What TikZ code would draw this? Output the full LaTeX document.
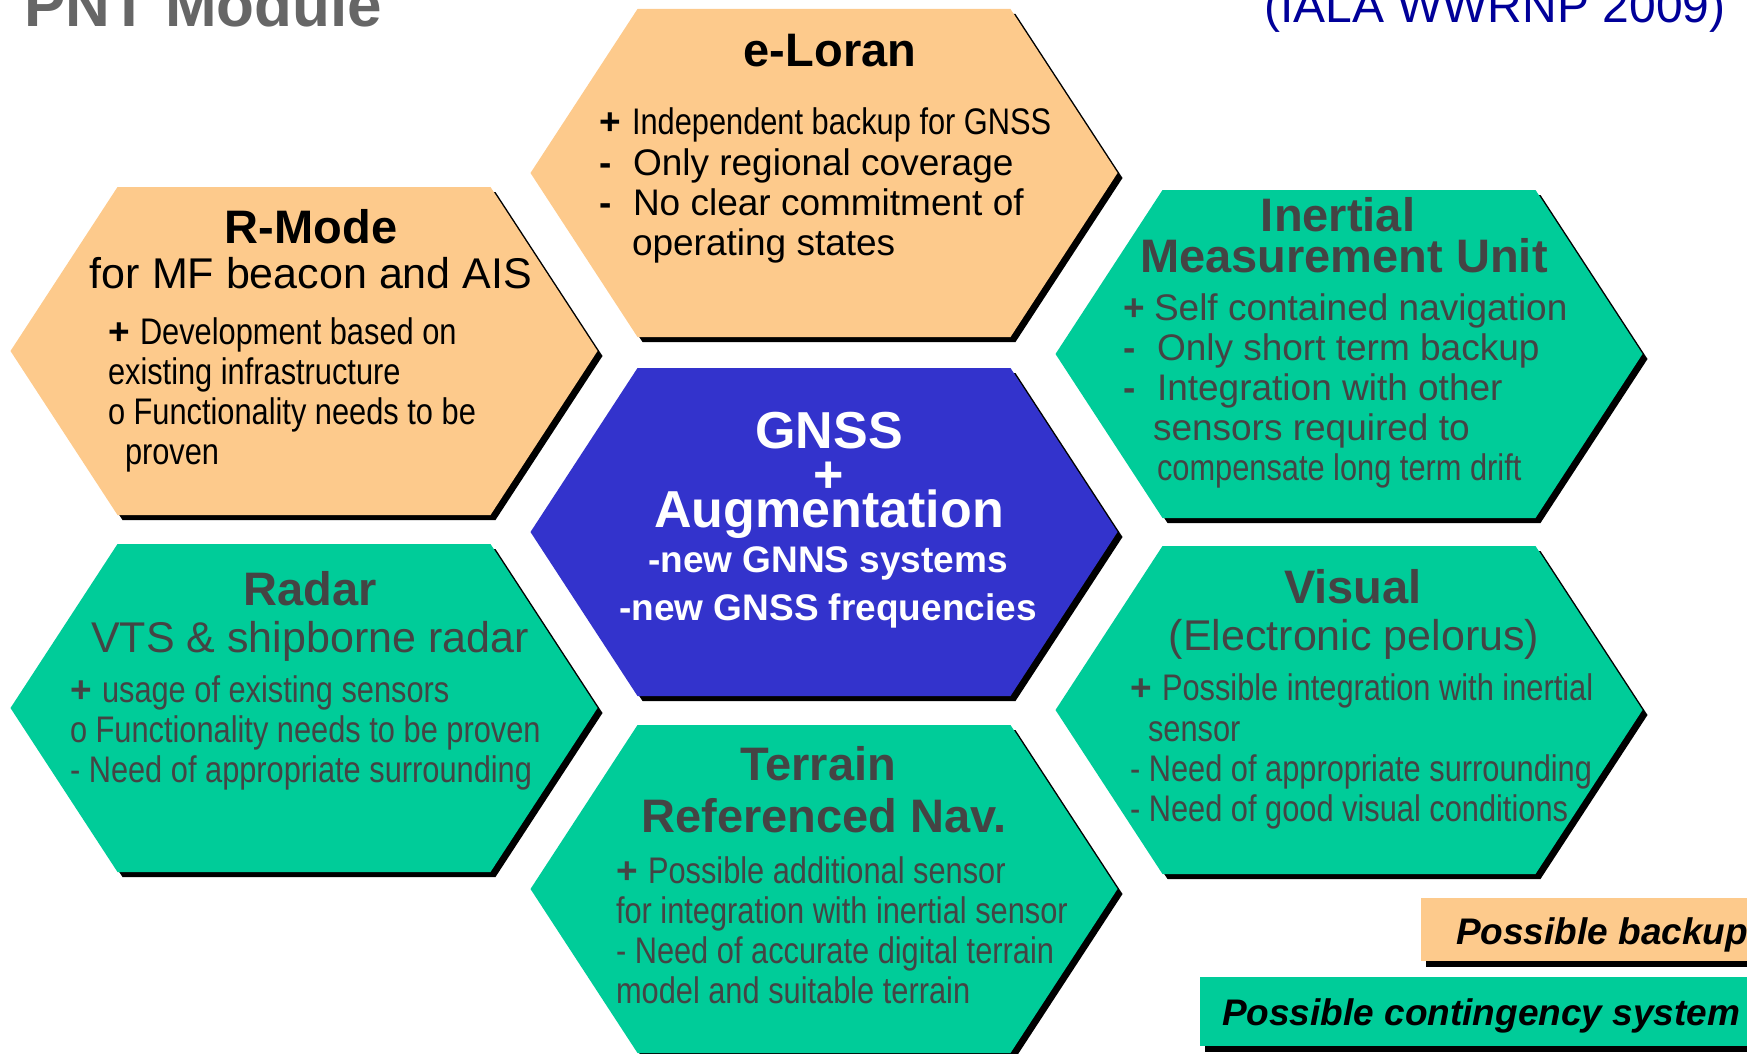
\documentclass[tikz,border=0pt]{standalone}
\usepackage{fontspec}
\setmainfont{Liberation Sans}
\newfontfamily\narrowfont[FakeStretch=0.832]{Liberation Sans}

\definecolor{peach}{RGB}{253,202,140}
\definecolor{seagreen}{RGB}{0,204,153}
\definecolor{royal}{RGB}{51,51,204}
\definecolor{inkgray}{RGB}{68,68,68}
\definecolor{titlegray}{RGB}{102,102,102}
\definecolor{navyblue}{RGB}{0,0,153}

\tikzset{
  % wide hexagon with a hard black drop shadow
  pics/hexcell/.style={code={
    \fill[black] (-288.5,5) -- (-181.5,-159) -- (191.5,-159) -- (298.5,5)
                 -- (191.5,169) -- (-181.5,169) -- cycle;
    \fill[#1] (-293.5,0) -- (-186.5,-164) -- (186.5,-164) -- (293.5,0)
              -- (186.5,164) -- (-186.5,164) -- cycle;
  }},
  every node/.style={inner sep=0pt, outer sep=0pt},
  head/.style={anchor=base, font=\bfseries\fontsize{47}{50}\selectfont},
  subhead/.style={anchor=base, font=\fontsize{43}{46}\selectfont},
  reg/.style={anchor=base west, font=\fontsize{37}{40}\selectfont},
  nar/.style={anchor=base west, font=\narrowfont\fontsize{37}{40}\selectfont},
  bulletsym/.style={anchor=base west, font=\bfseries\fontsize{37}{40}\selectfont},
  gnsshead/.style={anchor=base, text=white, font=\bfseries\fontsize{52}{56}\selectfont},
  gnssline/.style={anchor=base, text=white, font=\bfseries\fontsize{37}{40}\selectfont},
  legendtext/.style={anchor=base west, font=\bfseries\itshape\fontsize{37}{40}\selectfont},
  shadowbox/.style={fill=black},
}

\begin{document}
\begin{tikzpicture}[x=1pt,y=-1pt]
\useasboundingbox (0,0) rectangle (1747,1054);
\clip (0,0) rectangle (1747,1054);

% page headings
\node[anchor=base west, text=titlegray, font=\bfseries\fontsize{62}{64}\selectfont]
  (pnt) at (24,27) {PNT Module};
\node[anchor=base west, text=navyblue, font=\fontsize{48}{52}\selectfont]
  (iala) at (1264,23) {(IALA WWRNP 2009)};

% honeycomb cells
\pic at (824,173) {hexcell=peach};     % e-Loran
\pic at (304,351) {hexcell=peach};     % R-Mode
\pic at (1349,354) {hexcell=seagreen}; % IMU
\pic at (824,532) {hexcell=royal};     % GNSS
\pic at (304,708) {hexcell=seagreen};  % Radar
\pic at (1349,710) {hexcell=seagreen}; % Visual
\pic at (824,889) {hexcell=seagreen};  % Terrain

% e-Loran
\node[head] (elT) at (830,67) {e-Loran};
\node[bulletsym] (elP1) at (599,135) {+};
\node[nar] (elL1) at (632,135) {Independent backup for GNSS};
\node[bulletsym] (elM2) at (599,175) {-};
\node[reg] (elL2) at (633,175) {Only regional coverage};
\node[bulletsym] (elM3) at (599,215) {-};
\node[reg] (elL3) at (633,215) {No clear commitment of};
\node[reg] (elL4) at (632,255) {operating states};

% R-Mode
\node[head] (rmT) at (311,243) {R-Mode};
\node[subhead] (rmS) at (311,288) {for MF beacon and AIS};
\node[bulletsym] (rmP1) at (108,344) {+};
\node[nar] (rmL1) at (140,344) {Development based on};
\node[nar] (rmL2) at (108,384) {existing infrastructure};
\node[nar] (rmL3) at (108,424) {o Functionality needs to be};
\node[nar] (rmL4) at (125,464) {proven};

% Inertial Measurement Unit
\begin{scope}[every node/.append style={text=inkgray}]
\node[head] (imT1) at (1338,231) {Inertial};
\node[head] (imT2) at (1344,272) {Measurement Unit};
\node[bulletsym] (imP1) at (1123,320) {+};
\node[reg] (imL1) at (1154,320) {Self contained navigation};
\node[bulletsym] (imM2) at (1123,360) {-};
\node[reg] (imL2) at (1157,360) {Only short term backup};
\node[bulletsym] (imM3) at (1123,400) {-};
\node[reg] (imL3) at (1157,400) {Integration with other};
\node[reg] (imL4) at (1153,440) {sensors required to};
\node[nar] (imL5) at (1157,480) {compensate long term drift};
\end{scope}

% GNSS + Augmentation
\node[gnsshead] (gnT1) at (829,448) {GNSS};
\node[gnsshead] (gnT2) at (829,492) {+};
\node[gnsshead] (gnT3) at (829,527) {Augmentation};
\node[gnssline] (gnL1) at (828,572) {-new GNNS systems};
\node[gnssline] (gnL2) at (828,620) {-new GNSS frequencies};

% Radar
\begin{scope}[every node/.append style={text=inkgray}]
\node[head] (raT) at (310,605) {Radar};
\node[subhead] (raS) at (310,652) {VTS \& shipborne radar};
\node[bulletsym] (raP1) at (70,702) {+};
\node[nar] (raL1) at (102,702) {usage of existing sensors};
\node[nar] (raL2) at (70,742) {o Functionality needs to be proven};
\node[nar] (raL3) at (70,782) {- Need of appropriate surrounding};
\end{scope}

% Visual
\begin{scope}[every node/.append style={text=inkgray}]
\node[head] (viT) at (1353,603) {Visual};
\node[subhead] (viS) at (1354,650) {(Electronic pelorus)};
\node[bulletsym] (viP1) at (1130,700) {+};
\node[nar] (viL1) at (1162,700) {Possible integration with inertial};
\node[nar] (viL2) at (1148,741) {sensor};
\node[nar] (viL3) at (1130,781) {- Need of appropriate surrounding};
\node[nar] (viL4) at (1130,821) {- Need of good visual conditions};
\end{scope}

% Terrain Referenced Navigation
\begin{scope}[every node/.append style={text=inkgray}]
\node[head] (trT1) at (818,780) {Terrain};
\node[head] (trT2) at (824,832) {Referenced Nav.};
\node[bulletsym] (trP1) at (616,883) {+};
\node[nar] (trL1) at (648,883) {Possible additional sensor};
\node[nar] (trL2) at (616,923) {for integration with inertial sensor};
\node[nar] (trL3) at (616,963) {- Need of accurate digital terrain};
\node[nar] (trL4) at (616,1003) {model and suitable terrain};
\end{scope}

% legend
\fill[shadowbox] (1426,904) rectangle (1760,967);
\fill[peach] (1421,898) rectangle (1760,961);
\node[legendtext] (lgB) at (1456,944) {Possible backup};
\fill[shadowbox] (1205,983) rectangle (1760,1052);
\fill[seagreen] (1200,977) rectangle (1760,1046);
\node[legendtext] (lgC) at (1222,1025) {Possible contingency system};
\end{tikzpicture}
\end{document}
